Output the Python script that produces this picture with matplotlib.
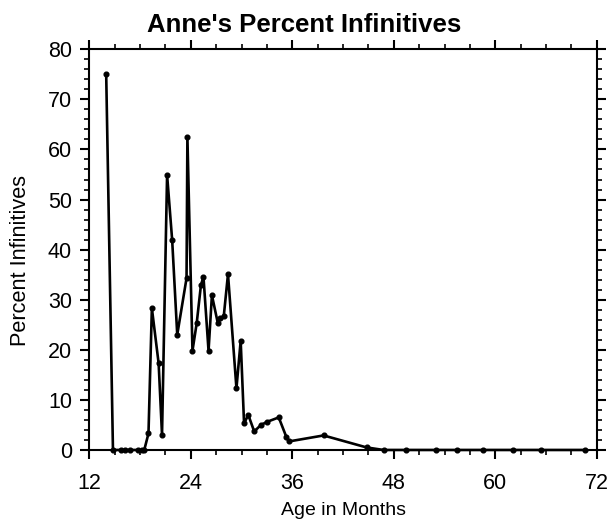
import matplotlib
matplotlib.use("Agg")
import matplotlib.pyplot as plt
from matplotlib.ticker import MultipleLocator

plt.rcParams['font.family'] = ['Liberation Sans', 'DejaVu Sans']

# Age in months and percent infinitives for each sample
age = [14.0, 14.8, 15.8, 16.2, 16.8, 17.8, 18.2, 18.5, 19.0, 19.4,
       20.2, 20.6, 21.2, 21.8, 22.4, 23.5, 23.6, 24.2, 24.7, 25.2,
       25.5, 26.1, 26.5, 27.2, 27.5, 27.9, 28.4, 29.4, 29.9, 30.3,
       30.8, 31.5, 32.3, 33.0, 34.4, 35.3, 35.6, 39.7, 44.8, 46.8,
       49.4, 53.0, 55.5, 58.5, 62.1, 65.4, 70.6]
pct = [75.0, 0.0, 0.0, 0.0, 0.0, 0.0, 0.0, 0.0, 3.3, 28.3,
       17.3, 3.0, 54.9, 41.9, 23.0, 34.3, 62.5, 19.8, 25.3, 32.9,
       34.6, 19.8, 30.9, 25.3, 26.3, 26.7, 35.1, 12.3, 21.8, 5.3,
       7.0, 3.7, 5.0, 5.6, 6.5, 2.6, 1.7, 2.9, 0.5, 0.0,
       0.0, 0.0, 0.0, 0.0, 0.0, 0.0, 0.0]

fig = plt.figure(figsize=(6.09, 5.30), dpi=100)
ax = fig.add_axes([0.1466, 0.151, 0.8333, 0.756])

ax.plot(age, pct, color='black', lw=1.9, marker='o', ms=3.4, clip_on=False, zorder=3)

ax.set_xlim(12, 72)
ax.set_ylim(0, 80)
ax.xaxis.set_major_locator(MultipleLocator(12))
ax.xaxis.set_minor_locator(MultipleLocator(3))
ax.yaxis.set_major_locator(MultipleLocator(10))
ax.yaxis.set_minor_locator(MultipleLocator(2))

for s in ax.spines.values():
    s.set_linewidth(1.5)
ax.tick_params(which='major', direction='out', length=6.5, width=1.5,
               top=True, right=True, labelsize=15.5)
ax.tick_params(axis='x', which='major', pad=10)
ax.tick_params(axis='y', which='major', pad=6)
ax.tick_params(which='minor', direction='out', length=3.3, width=1.2,
               top=True, right=True)

fig.text(0.5, 0.953, "Anne's Percent Infinitives", fontsize=18.5,
         fontweight='bold', ha='center', va='center')
ax.set_xlabel("Age in Months", fontsize=14, labelpad=6)
ax.set_ylabel("Percent Infinitives", fontsize=15.7)
ax.yaxis.set_label_coords(-0.115, 0.472)

fig.savefig("out.png", dpi=100)
